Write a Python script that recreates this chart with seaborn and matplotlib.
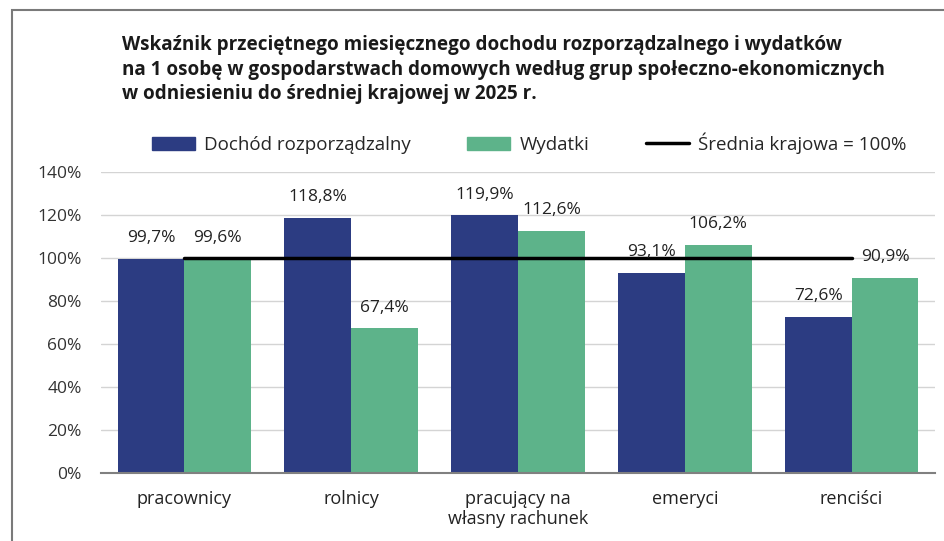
import pandas as pd
import seaborn as sns
import matplotlib.pyplot as plt
from matplotlib.patches import Patch, Rectangle
from matplotlib.lines import Line2D

# data
groups = ["pracownicy", "rolnicy", "pracujący na\nwłasny rachunek", "emeryci", "renciści"]
dochod = [99.7, 118.8, 119.9, 93.1, 72.6]
wydatki = [99.6, 67.4, 112.6, 106.2, 90.9]
series = ["Dochód rozporządzalny", "Wydatki"]
avg_label = "Średnia krajowa = 100%"
avg_value = 100

blue = "#2c3c82"
green = "#5db38a"

df = pd.DataFrame({
    "grupa": groups * 2,
    "seria": [series[0]] * len(groups) + [series[1]] * len(groups),
    "wartosc": dochod + wydatki,
})

sns.set_style("white")
plt.rcParams["font.family"] = ["Open Sans", "DejaVu Sans"]

fig = plt.figure(figsize=(9.44, 5.41), dpi=100)
ax = fig.add_axes([101 / 944, 1 - 473 / 541, (935 - 101) / 944, (473 - 172) / 541])

# frame around the whole picture
fig.patches.append(Rectangle((12 / 944, -0.05), 1.2, 1 - 10 / 541 + 0.05,
                             transform=fig.transFigure, fill=False,
                             edgecolor="#7a7a7a", linewidth=1.5))

sns.barplot(data=df, x="grupa", y="wartosc", hue="seria",
            palette=[blue, green], width=0.8, saturation=1, linewidth=0,
            ax=ax, legend=False, zorder=2)

ax.plot([0, len(groups) - 1], [avg_value, avg_value], color="black",
        linewidth=2.5, zorder=4)

for cont in ax.containers:
    for bar in cont:
        h = bar.get_height()
        ax.annotate(f"{h:.1f}%".replace(".", ","),
                    (bar.get_x() + bar.get_width() / 2, h),
                    xytext=(0, 9), textcoords="offset points",
                    ha="center", va="bottom", fontsize=12.5, color="#222222",
                    zorder=5)

ax.set_ylim(0, 140)
ax.set_xlim(-0.5, 4.5)
ax.set_yticks(range(0, 141, 20))
ax.set_yticklabels([f"{v}%" for v in range(0, 141, 20)], fontsize=12.5, color="#333333")
ax.tick_params(axis="x", labelsize=13, colors="#222222", length=0, pad=12)
ax.tick_params(axis="y", length=0, pad=14)
ax.yaxis.grid(True, color="#d4d4d4", linewidth=1, zorder=0)
ax.set_axisbelow(True)
ax.set_xlabel("")
ax.set_ylabel("")
for s in ["top", "right", "left"]:
    ax.spines[s].set_visible(False)
ax.spines["bottom"].set_color("#808080")
ax.spines["bottom"].set_linewidth(1.5)

handles = [Patch(color=blue), Patch(color=green),
           Line2D([0], [0], color="black", linewidth=2.5)]
fig.legend(handles, series + [avg_label], loc="center",
           bbox_to_anchor=(529 / 944, 1 - 143 / 541), ncol=3, frameon=False,
           fontsize=13.5, handlelength=2.3, handleheight=0.7,
           columnspacing=3.0, handletextpad=0.5)

fig.text(122 / 944, 1 - 35 / 541,
         "Wskaźnik przeciętnego miesięcznego dochodu rozporządzalnego i wydatków\n"
         "na 1 osobę w gospodarstwach domowych według grup społeczno-ekonomicznych\n"
         "w odniesieniu do średniej krajowej w 2025 r.",
         ha="left", va="top", fontsize=13.6, fontweight="bold",
         color="#1a1a1a", linespacing=1.3)

fig.savefig("out.png", dpi=100)
